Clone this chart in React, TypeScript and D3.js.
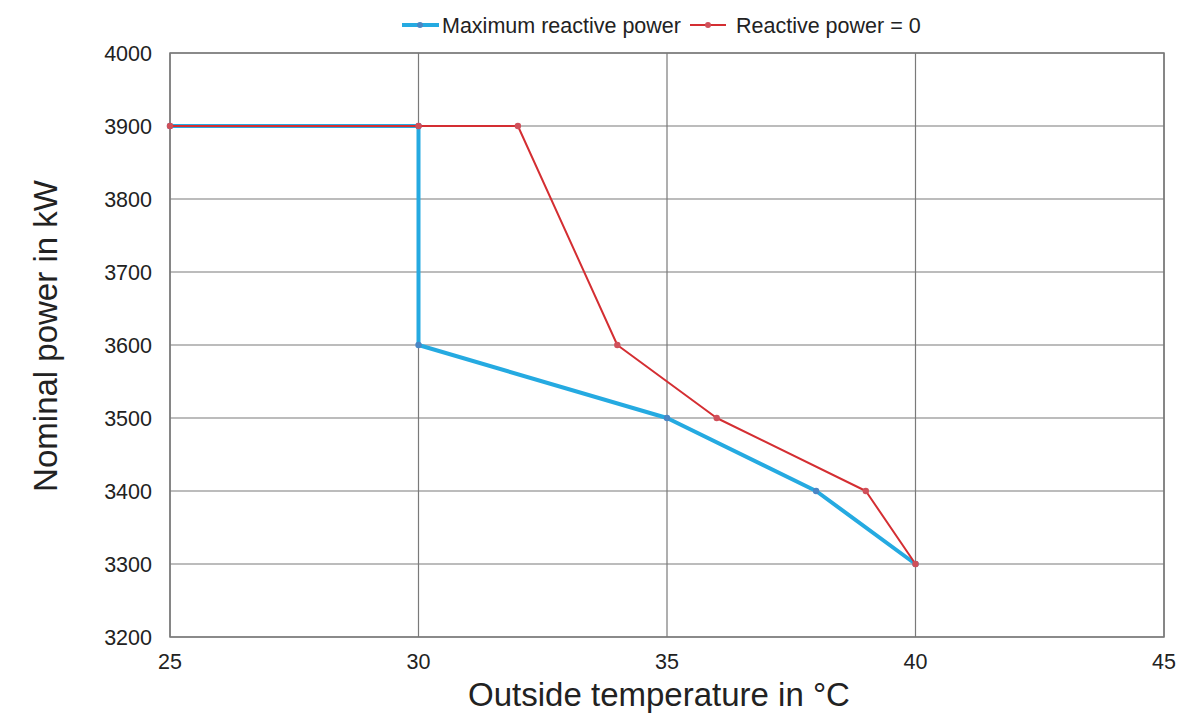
import React from "react";
import * as d3 from "d3";

const xTicks = [25, 30, 35, 40, 45];
const yTicks = [3200, 3300, 3400, 3500, 3600, 3700, 3800, 3900, 4000];

const maxReactiveTemp = [25, 30, 30, 35, 38, 40];
const maxReactivePower = [3900, 3900, 3600, 3500, 3400, 3300];

const zeroReactiveTemp = [25, 30, 32, 34, 36, 39, 40];
const zeroReactivePower = [3900, 3900, 3900, 3600, 3500, 3400, 3300];

const seriesNames = ["Maximum reactive power", "Reactive power = 0"];

const W = 1180;
const H = 716;
const margin = { left: 170, right: 16, top: 53, bottom: 79 };

export default function App() {
  const x = d3.scaleLinear().domain([25, 45]).range([margin.left, W - margin.right]);
  const y = d3.scaleLinear().domain([3200, 4000]).range([H - margin.bottom, margin.top]);

  const blue = maxReactiveTemp.map((t, i) => [t, maxReactivePower[i]] as [number, number]);
  const red = zeroReactiveTemp.map((t, i) => [t, zeroReactivePower[i]] as [number, number]);

  const line = d3
    .line<[number, number]>()
    .x((d) => x(d[0]))
    .y((d) => y(d[1]));

  const font = "Liberation Sans, Arial, sans-serif";
  const blueColor = "#25aae1";
  const redColor = "#d42e32";

  return (
    <div style={{ position: "absolute", left: 0, top: 0 }}>
      <svg width={W} height={H} style={{ display: "block", background: "#fff" }}>
        {/* grid */}
        {yTicks.map((t) => (
          <line key={"gy" + t} x1={x(25)} x2={x(45)} y1={y(t)} y2={y(t)} stroke="#7a7a7a" strokeWidth={1.2} />
        ))}
        {xTicks.map((t) => (
          <line key={"gx" + t} x1={x(t)} x2={x(t)} y1={y(3200)} y2={y(4000)} stroke="#7a7a7a" strokeWidth={1.2} />
        ))}
        <rect
          x={x(25)}
          y={y(4000)}
          width={x(45) - x(25)}
          height={y(3200) - y(4000)}
          fill="none"
          stroke="#7a7a7a"
          strokeWidth={1.5}
        />
        {/* y tick labels */}
        {yTicks.map((t) => (
          <text key={"yl" + t} x={152} y={y(t) + 7.5} textAnchor="end" fontFamily={font} fontSize={21.5} fill="#222">
            {t}
          </text>
        ))}
        {xTicks.map((t) => (
          <text key={"xl" + t} x={x(t)} y={y(3200) + 32} textAnchor="middle" fontFamily={font} fontSize={21.5} fill="#222">
            {t}
          </text>
        ))}
        {/* axis titles */}
        <text
          transform={`translate(57, 336) rotate(-90)`}
          textAnchor="middle"
          fontFamily={font}
          fontSize={33}
          fill="#222"
        >
          Nominal power in kW
        </text>
        <text x={659} y={706} textAnchor="middle" fontFamily={font} fontSize={33} fill="#222">
          Outside temperature in °C
        </text>
        {/* series */}
        <path d={line(blue) || ""} fill="none" stroke={blueColor} strokeWidth={4} strokeLinejoin="round" />
        {blue.map((d, i) => (
          <circle key={"bm" + i} cx={x(d[0])} cy={y(d[1])} r={3.2} fill="#4a86c5" />
        ))}
        <path d={line(red) || ""} fill="none" stroke={redColor} strokeWidth={2} strokeLinejoin="round" />
        {red.map((d, i) => (
          <circle key={"rm" + i} cx={x(d[0])} cy={y(d[1])} r={3.2} fill="#d0505a" />
        ))}
        {/* legend */}
        <line x1={402} x2={439} y1={25} y2={25} stroke={blueColor} strokeWidth={4} />
        <circle cx={420} cy={25} r={3} fill="#4a86c5" />
        <text x={442} y={32.5} fontFamily={font} fontSize={21.5} fill="#222">
          {seriesNames[0]}
        </text>
        <line x1={690} x2={726} y1={25} y2={25} stroke={redColor} strokeWidth={2} />
        <circle cx={708} cy={25} r={3} fill="#d0505a" />
        <text x={736} y={32.5} fontFamily={font} fontSize={21.5} fill="#222">
          {seriesNames[1]}
        </text>
      </svg>
    </div>
  );
}
